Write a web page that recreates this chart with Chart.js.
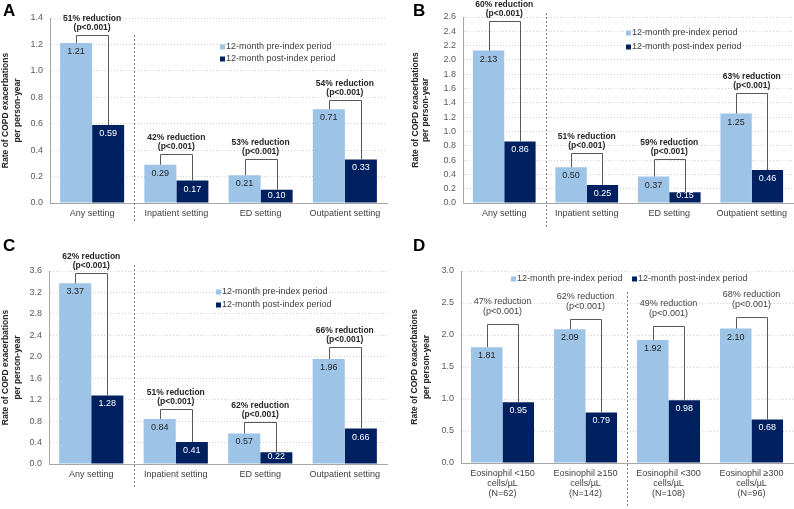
<!DOCTYPE html>
<html>
<head>
<meta charset="utf-8">
<script src="https://cdn.jsdelivr.net/npm/chart.js@4.4.0/dist/chart.umd.min.js"></script>
<style>
  body { margin: 0; background: #fff; width: 794px; height: 509px; position: relative; overflow: hidden; }
  canvas { position: absolute; }
</style>
</head>
<body>
<canvas id="chartA" width="397" height="232" style="left:0;top:0"></canvas>
<canvas id="chartB" width="394" height="232" style="left:400px;top:0"></canvas>
<canvas id="chartC" width="397" height="277" style="left:0;top:232px"></canvas>
<canvas id="chartD" width="394" height="277" style="left:400px;top:232px"></canvas>
<script>
// --- data ---
const settingLabels = ['Any setting', 'Inpatient setting', 'ED setting', 'Outpatient setting'];
const eosinophilLabels = [
    ['Eosinophil <150', 'cells/µL', '(N=62)'],
    ['Eosinophil ≥150', 'cells/µL', '(N=142)'],
    ['Eosinophil <300', 'cells/µL', '(N=108)'],
    ['Eosinophil ≥300', 'cells/µL', '(N=96)']
];
const seriesNames = ['12-month pre-index period', '12-month post-index period'];
const yTitleLines = ['Rate of COPD exacerbations', 'per person-year'];
const pValueText = '(p<0.001)';

const preA = [1.21, 0.29, 0.21, 0.71];
const postA = [0.59, 0.17, 0.10, 0.33];
const reductionA = [51, 42, 53, 54];

const preB = [2.13, 0.50, 0.37, 1.25];
const postB = [0.86, 0.25, 0.15, 0.46];
const reductionB = [60, 51, 59, 63];

const preC = [3.37, 0.84, 0.57, 1.96];
const postC = [1.28, 0.41, 0.22, 0.66];
const reductionC = [62, 51, 62, 66];

const preD = [1.81, 2.09, 1.92, 2.10];
const postD = [0.95, 0.79, 0.98, 0.68];
const reductionD = [47, 62, 49, 68];

// --- style ---
const FONT = '"Liberation Sans", Arial, sans-serif';
const preColor = '#9DC3E6';
const postColor = '#002060';

// panel letter, y title, brackets, legend, separator
const decorPlugin = {
    id: 'decor',
    afterDraw(chart, args, o) {
        const ctx = chart.ctx;
        const area = chart.chartArea;
        const xs = chart.scales.x;
        const base = chart.scales.y.getPixelForValue(0);
        const pre = chart.getDatasetMeta(0).data;
        const post = chart.getDatasetMeta(1).data;
        ctx.save();

        // panel letter
        ctx.fillStyle = '#000';
        ctx.font = 'bold 17px ' + FONT;
        ctx.textAlign = 'left';
        ctx.textBaseline = 'top';
        ctx.fillText(o.letter, o.letterX, o.letterY);

        // y title
        ctx.save();
        ctx.translate(0, (area.top + area.bottom) / 2);
        ctx.rotate(-Math.PI / 2);
        ctx.font = 'bold 8.5px ' + FONT;
        ctx.fillStyle = '#262626';
        ctx.textAlign = 'center';
        ctx.textBaseline = 'middle';
        yTitleLines.forEach((t, i) => ctx.fillText(t, 0, o.titleX[i]));
        ctx.restore();

        // dashed separator
        const sx = Math.round((xs.getPixelForValue(o.sepAfter) + xs.getPixelForValue(o.sepAfter + 1)) / 2) + 0.5;
        ctx.strokeStyle = '#7F7F7F';
        ctx.lineWidth = 1;
        ctx.setLineDash([2, 2]);
        ctx.beginPath();
        ctx.moveTo(sx, o.sepTop);
        ctx.lineTo(sx, o.sepBottom);
        ctx.stroke();
        ctx.setLineDash([]);

        // value labels
        ctx.font = '9px ' + FONT;
        ctx.textAlign = 'center';
        ctx.textBaseline = 'middle';
        [pre, post].forEach((bars, d) => {
            bars.forEach((bar, i) => {
                const val = chart.data.datasets[d].data[i];
                ctx.fillStyle = d === 0 ? '#262626' : '#ffffff';
                ctx.fillText(val.toFixed(2), bar.x, Math.min(bar.y + 8.5, base - 7));
            });
        });

        // brackets + reduction notes
        o.reductions.forEach((r, i) => {
            const a = pre[i], b = post[i];
            const top = Math.round(a.y - o.gaps[i]) + 0.5;
            const ax = Math.round(a.x) + 0.5, bx = Math.round(b.x) + 0.5;
            ctx.strokeStyle = '#595959';
            ctx.beginPath();
            ctx.moveTo(ax, a.y);
            ctx.lineTo(ax, top);
            ctx.lineTo(bx, top);
            ctx.lineTo(bx, b.y);
            ctx.stroke();
            const cx = (a.x + b.x) / 2;
            ctx.font = o.noteFont;
            ctx.fillStyle = o.noteColor;
            ctx.fillText(r + '% reduction', cx, top + o.noteOffsets[0]);
            ctx.fillText(pValueText, cx, top + o.noteOffsets[1]);
        });

        // legend
        ctx.font = '9px ' + FONT;
        ctx.textAlign = 'left';
        chart.data.datasets.forEach((ds, i) => {
            const lx = o.legendX[i], ly = o.legendY[i];
            ctx.fillStyle = ds.backgroundColor;
            ctx.fillRect(lx, ly - 2.5, 5, 5);
            ctx.fillStyle = '#404040';
            ctx.fillText(ds.label, lx + 6, ly);
        });

        ctx.restore();
    }
};

function makePanel(id, cfg) {
    return new Chart(document.getElementById(id), {
        type: 'bar',
        data: {
            labels: cfg.labels,
            datasets: [
                { label: seriesNames[0], data: cfg.pre, backgroundColor: preColor, categoryPercentage: 0.76, barPercentage: 1 },
                { label: seriesNames[1], data: cfg.post, backgroundColor: postColor, categoryPercentage: 0.76, barPercentage: 1 }
            ]
        },
        options: {
            responsive: false,
            animation: false,
            devicePixelRatio: 1,
            layout: { padding: cfg.padding },
            plugins: {
                legend: { display: false },
                tooltip: { enabled: false },
                decor: cfg.decor
            },
            scales: {
                x: {
                    grid: { display: false, drawTicks: false },
                    border: { display: true, color: '#A6A6A6' },
                    ticks: { padding: 6, color: '#404040', font: { family: FONT, size: 9, lineHeight: 1.1 }, maxRotation: 0, autoSkip: false },
                    afterFit(s) { s.height = cfg.xAxisH; }
                },
                y: {
                    min: 0,
                    max: cfg.yMax,
                    ticks: { stepSize: cfg.yStep, padding: 7, color: '#595959', font: { family: FONT, size: 9 }, callback: v => v.toFixed(1) },
                    grid: { color: '#D0D0D0', drawTicks: false },
                    border: { display: true, color: '#A6A6A6', dash: [1, 2] },
                    afterFit(s) { s.width = cfg.yAxisW; }
                }
            }
        },
        plugins: [decorPlugin]
    });
}

const boldNote = 'bold 8.5px ' + FONT;

makePanel('chartA', {
    labels: settingLabels, pre: preA, post: postA, yMax: 1.4, yStep: 0.2,
    yAxisW: 50, xAxisH: 20, padding: { top: 18, right: 10, bottom: 9, left: 0 },
    decor: {
        letter: 'A', letterX: 3, letterY: 3, titleX: [6, 18],
        sepAfter: 0, sepTop: 35, sepBottom: 223,
        reductions: reductionA, gaps: [8, 11, 16, 9], noteOffsets: [-17, -7.5], noteFont: boldNote, noteColor: '#262626',
        legendX: [220, 220], legendY: [47, 59]
    }
});

makePanel('chartB', {
    labels: settingLabels, pre: preB, post: postB, yMax: 2.6, yStep: 0.2,
    yAxisW: 63, xAxisH: 20, padding: { top: 17, right: 1, bottom: 9, left: 0 },
    decor: {
        letter: 'B', letterX: 13, letterY: 3, titleX: [15.5, 26],
        sepAfter: 0, sepTop: 13, sepBottom: 227,
        reductions: reductionB, gaps: [30, 14, 18, 21], noteOffsets: [-17, -7.5], noteFont: boldNote, noteColor: '#262626',
        legendX: [226, 226], legendY: [33, 47]
    }
});

makePanel('chartC', {
    labels: settingLabels, pre: preC, post: postC, yMax: 3.6, yStep: 0.4,
    yAxisW: 49, xAxisH: 20, padding: { top: 39, right: 10, bottom: 25, left: 0 },
    decor: {
        letter: 'C', letterX: 3, letterY: 6, titleX: [6, 18],
        sepAfter: 0, sepTop: 33, sepBottom: 256,
        reductions: reductionC, gaps: [10, 10, 11, 12], noteOffsets: [-17, -7.5], noteFont: boldNote, noteColor: '#262626',
        legendX: [216, 216], legendY: [60, 73]
    }
});

makePanel('chartD', {
    labels: eosinophilLabels, pre: preD, post: postD, yMax: 3.0, yStep: 0.5,
    yAxisW: 61, xAxisH: 40, padding: { top: 39, right: 1, bottom: 6, left: 0 },
    decor: {
        letter: 'D', letterX: 13, letterY: 6, titleX: [15, 27],
        sepAfter: 1, sepTop: 60, sepBottom: 275,
        reductions: reductionD, gaps: [23, 10, 14, 12], noteOffsets: [-23, -13], noteFont: '9px ' + FONT, noteColor: '#404040',
        legendX: [111, 232], legendY: [47, 47]
    }
});
</script>
</body>
</html>
